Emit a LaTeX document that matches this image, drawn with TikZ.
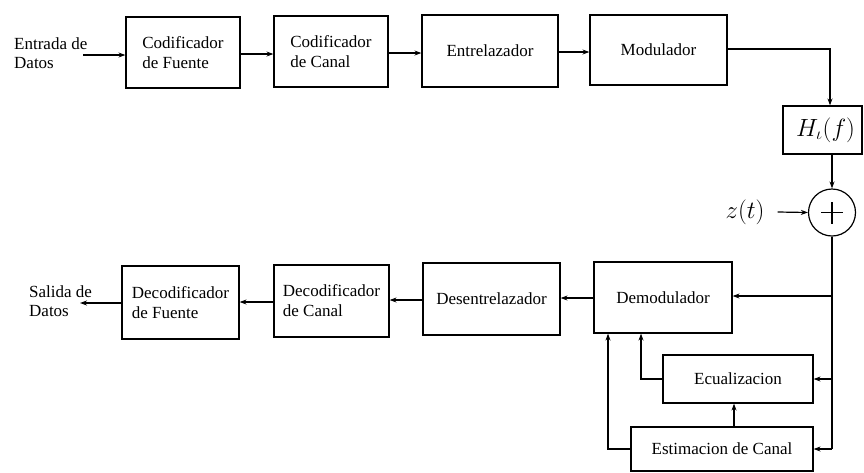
\documentclass[tikz,border=0pt]{standalone}
\usepackage{fontspec}
\setmainfont{Liberation Serif}
\usetikzlibrary{arrows.meta}
\begin{document}
\begin{tikzpicture}[x=1pt,y=-1pt,
  blk/.style={draw,line width=1.2pt,inner sep=0pt,align=left,font=\fontsize{17}{20}\selectfont},
  lbl/.style={inner sep=0pt,align=left,font=\fontsize{17}{19}\selectfont},
  con/.style={line width=1.2pt},
  arr/.style={line width=1.2pt,-{Stealth[length=7pt,width=5pt]}}]
\useasboundingbox (0,0) rectangle (864,472);
\fill[white] (0,0) rectangle (864,472);
% top row
\node[blk,minimum width=114pt,minimum height=71pt] (cf) at (183,52.5) {Codificador\\de Fuente};
\node[blk,minimum width=114pt,minimum height=71pt] (cc) at (331,51.5) {Codificador\\de Canal};
\node[blk,minimum width=136pt,minimum height=72pt] (ent) at (490,51) {Entrelazador};
\node[blk,minimum width=137pt,minimum height=70pt] (mod) at (658.5,50) {Modulador};
\node[blk,minimum width=79pt,minimum height=48pt] (H) at (822.5,130) {\fontsize{26}{28}\selectfont\hspace*{6pt}$H_\iota(f)$};
\node[draw,circle,line width=1.2pt,minimum size=47pt,inner sep=0pt] (sum) at (832,212.5) {};
\draw[line width=1.1pt] ([xshift=-11pt]sum.center) -- ([xshift=11pt]sum.center)
  ([yshift=-11pt]sum.center) -- ([yshift=11pt]sum.center);
\node[inner sep=0pt,font=\fontsize{26}{28}\selectfont] (z) at (745,212) {$z(t)$};
\node[lbl,anchor=west] (in) at (14,53) {Entrada de\\Datos};
\coordinate (inEnd) at (83,55);
% bottom row
\node[blk,minimum width=138pt,minimum height=71pt] (dem) at (663,297.5) {Demodulador};
\node[blk,minimum width=137pt,minimum height=72pt] (des) at (491.5,299) {Desentrelazador};
\node[blk,minimum width=115pt,minimum height=72pt] (dc) at (331.5,301) {Decodificador\\de Canal};
\node[blk,minimum width=117pt,minimum height=73pt] (df) at (180.5,302.5) {Decodificador\\de Fuente};
\node[blk,minimum width=150pt,minimum height=48pt] (ecu) at (738,379) {Ecualizacion};
\node[blk,minimum width=182pt,minimum height=44pt] (est) at (722,449) {Estimacion de Canal};
\node[lbl,anchor=west] (out) at (29,301) {Salida de\\Datos};
\coordinate (outEnd) at (80,303);
% connectors top
\draw[arr] (inEnd) -- (inEnd -| cf.west);
\draw[arr] (cf.east |- 0,54) -- (cc.west |- 0,54);
\draw[arr] (cc.east |- 0,53) -- (ent.west |- 0,53);
\draw[arr] (ent.east |- 0,52) -- (mod.west |- 0,52);
\coordinate (c1) at (830,49);
\draw[arr] (mod.east |- c1) -- (c1) -- (c1 |- H.north);
\draw[arr] (H.south -| sum.north) -- (sum.north);
\draw[arr] ([xshift=13pt]z.east) -- (sum.west);
% receiver side
\coordinate (r1) at (832,296);
\coordinate (r2) at (832,379);
\coordinate (r3) at (832,449);
\draw[con] (sum.south) -- (r3);
\draw[arr] (r1) -- (r1 -| dem.east);
\draw[arr] (r2) -- (r2 -| ecu.east);
\draw[arr] (r3) -- (r3 -| est.east);
\draw[arr] (dem.west |- 0,298) -- (des.east |- 0,298);
\draw[arr] (des.west |- 0,300) -- (dc.east |- 0,300);
\draw[arr] (dc.west |- 0,302) -- (df.east |- 0,302);
\draw[arr] (df.west |- outEnd) -- (outEnd);
\coordinate (e1) at (641,379);
\draw[arr] (ecu.west) -- (e1) -- (e1 |- dem.south);
\coordinate (e2) at (608,449);
\draw[arr] (est.west |- e2) -- (e2) -- (e2 |- dem.south);
\draw[arr] (734,0 |- est.north) -- (734,0 |- ecu.south);
\end{tikzpicture}
\end{document}
